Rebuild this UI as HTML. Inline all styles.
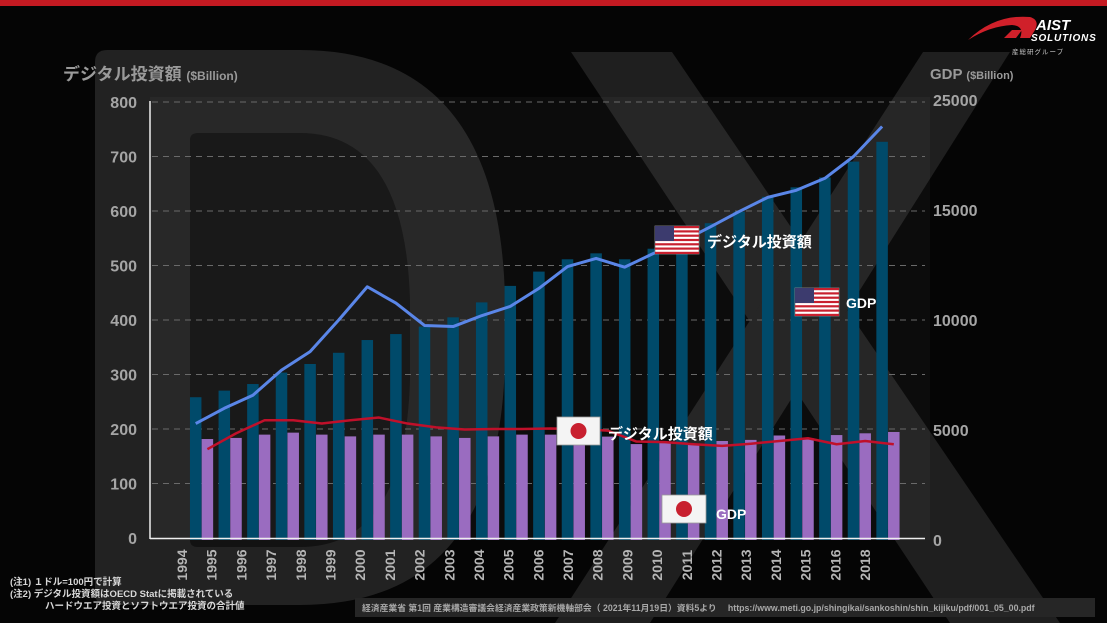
<!DOCTYPE html>
<html><head><meta charset="utf-8">
<style>
html,body{margin:0;padding:0;background:#050505;}
svg{display:block;font-family:"Liberation Sans","Noto Sans CJK JP",sans-serif;}
</style></head>
<body>
<svg id="chart" width="1107" height="623" viewBox="0 0 1107 623" xmlns="http://www.w3.org/2000/svg">
  <rect x="0" y="0" width="1107" height="623" fill="#050505"/>
  <rect x="0" y="0" width="1107" height="6" fill="#c41a22"/>
  <!-- big DX watermark -->
  <g>
    <path d="M95,62 Q95,50 107,50 L300,50 Q500,50 505,300 L505,360 Q500,605 300,605 L107,605 Q95,605 95,593 Z" fill="#222"/>
    <path d="M190,140 Q190,133 198,133 L300,133 Q405,133 410,300 L410,380 Q405,547 300,547 L198,547 Q190,547 190,540 Z" fill="#121212"/>
    <polygon points="571,52 672,52 1060,623 950,623" fill="#1f1f1f"/>
    <polygon points="923,52 1010,52 650,623 555,623" fill="#1f1f1f"/>
  </g>
  <rect x="150" y="97" width="780" height="443" fill="rgba(255,255,255,0.03)"/>
  <g id="grid"></g>
  <g id="bars"></g>
  <g id="lines"></g>
  <g id="axes"></g>

  <text x="63" y="80" font-size="17" font-weight="bold" fill="#9a9a9a">デジタル投資額 <tspan font-size="12">($Billion)</tspan></text>
  <text x="930" y="79" font-size="15" font-weight="bold" fill="#9a9a9a">GDP <tspan font-size="11">($Billion)</tspan></text>

  <!-- legend labels -->
  <g>
    <g transform="translate(655,226)">
      <rect width="44" height="28" fill="#fff" stroke="#888" stroke-width="0.8"/>
      <rect y="0" width="44" height="2.2" fill="#c8202f"/><rect y="4.3" width="44" height="2.2" fill="#c8202f"/><rect y="8.6" width="44" height="2.2" fill="#c8202f"/><rect y="12.9" width="44" height="2.2" fill="#c8202f"/><rect y="17.2" width="44" height="2.2" fill="#c8202f"/><rect y="21.5" width="44" height="2.2" fill="#c8202f"/><rect y="25.8" width="44" height="2.2" fill="#c8202f"/>
      <rect width="19" height="15" fill="#3c3b6e"/>
    </g>
    <text x="707" y="247" font-size="15" font-weight="bold" fill="#fff">デジタル投資額</text>
  </g>
  <g>
    <g transform="translate(795,288)">
      <rect width="44" height="28" fill="#fff" stroke="#888" stroke-width="0.8"/>
      <rect y="0" width="44" height="2.2" fill="#c8202f"/><rect y="4.3" width="44" height="2.2" fill="#c8202f"/><rect y="8.6" width="44" height="2.2" fill="#c8202f"/><rect y="12.9" width="44" height="2.2" fill="#c8202f"/><rect y="17.2" width="44" height="2.2" fill="#c8202f"/><rect y="21.5" width="44" height="2.2" fill="#c8202f"/><rect y="25.8" width="44" height="2.2" fill="#c8202f"/>
      <rect width="19" height="15" fill="#3c3b6e"/>
    </g>
    <text x="846" y="308" font-size="14" font-weight="bold" fill="#fff">GDP</text>
  </g>
  <g>
    <g transform="translate(557,417)">
      <rect width="43" height="28" fill="#f4f4f4" stroke="#999" stroke-width="0.8"/>
      <circle cx="21.5" cy="14" r="8" fill="#c8202f"/>
    </g>
    <text x="608" y="439" font-size="15" font-weight="bold" fill="#fff">デジタル投資額</text>
  </g>
  <g>
    <g transform="translate(662,495)">
      <rect width="44" height="28" fill="#f4f4f4" stroke="#999" stroke-width="0.8"/>
      <circle cx="22" cy="14" r="8" fill="#c8202f"/>
    </g>
    <text x="716" y="519" font-size="14" font-weight="bold" fill="#fff">GDP</text>
  </g>

  <!-- logo -->
  <g>
    <path d="M968,40 Q995,14 1030,17 Q1040,20 1035,30 L1030,38 L1020,38 Q1025,26 1012,25 Q990,26 968,40 Z" fill="#d0202a"/>
    <path d="M1004,38 L1012,30 L1022,30 L1016,38 Z" fill="#d0202a"/>
    <text x="1036" y="30" font-size="15" font-weight="bold" font-style="italic" fill="#fff">AIST</text>
    <text x="1031" y="41" font-size="10" font-weight="bold" font-style="italic" fill="#fff" letter-spacing="0.8">SOLUTIONS</text>
    <text x="1012" y="54" font-size="6.5" fill="#ccc" letter-spacing="1">産総研グループ</text>
  </g>

  <!-- footnotes -->
  <g font-size="9.5" font-weight="bold" fill="#d8d8d8">
    <text x="10" y="585">(注1) １ドル=100円で計算</text>
    <text x="10" y="597">(注2) デジタル投資額はOECD Statに掲載されている</text>
    <text x="45" y="609">ハードウエア投資とソフトウエア投資の合計値</text>
  </g>
  <rect x="355" y="598" width="740" height="19" fill="#262626"/>
  <text x="362" y="611" font-size="8.8" font-weight="bold" fill="#a8a8a8">経済産業省 第1回 産業構造審議会経済産業政策新機軸部会（ 2021年11月19日）資料5より　 https://www.meti.go.jp/shingikai/sankoshin/shin_kijiku/pdf/001_05_00.pdf</text>

<script>
const years = ['1994','1995','1996','1997','1998','1999','2000','2001','2002','2003','2004','2005','2006','2007','2008','2009','2010','2011','2012','2013','2014','2015','2016','2017','2018'];
const yearLabels = ['1994','1995','1996','1997','1998','1999','2000','2001','2002','2003','2004','2005','2006','2007','2008','2009','2010','2011','2012','2013','2014','2015','2016','2018'];
const usGdp = [6490,6790,7090,7610,8000,8510,9090,9360,9700,10120,10800,11550,12200,12760,13030,12760,13240,13600,14400,14920,15600,16030,16480,17200,18100];
const jpGdp = [4590,4640,4790,4880,4790,4710,4790,4790,4710,4640,4710,4790,4790,4700,4700,4360,4470,4360,4500,4550,4750,4620,4770,4850,4910];
const usDigital = [210,238,262,308,342,400,461,431,390,388,408,425,458,498,513,497,522,544,571,599,625,638,660,700,755];
const jpDigital = [163,192,216,216,210,216,221,210,203,199,200,200,201,200,197,177,176,172,169,173,178,183,172,178,172];
const leftTicks = [0,100,200,300,400,500,600,700,800];
const rightTicks = [0,5000,10000,15000,20000];
const rightTickLabels = ['0','5000','10000','15000','25000'];

const NS = 'http://www.w3.org/2000/svg';
function mk(tag, attrs, parent){const e=document.createElementNS(NS,tag);for(const k in attrs)e.setAttribute(k,attrs[k]);parent.appendChild(e);return e;}
const yL = v => 538 - v*0.545;
const yR = v => 540 - v*0.022;
const xUS = i => 195.7 + i*28.6;
const xJP = i => 207.4 + i*28.6;
const xLab = i => 182 + i*((865-182)/(yearLabels.length-1));
const BW = 11.5;

const grid = document.getElementById('grid');
const axes = document.getElementById('axes');
leftTicks.forEach(t=>{
  if(t>0){
    const g = mk('line',{x1:152,x2:925,y1:yL(t),y2:yL(t),stroke:'#6a6a6a','stroke-width':1,'stroke-dasharray':'6 5'},grid);
    
    
  }
  const tx = mk('text',{x:137,y:yL(t)+6,'text-anchor':'end','font-size':16,'font-weight':'bold',fill:'#a5a5a5'},axes);
  tx.textContent = t;
  
  
});
rightTicks.forEach((t,i)=>{
  const tx = mk('text',{x:933,y:yR(t)+6,'font-size':16,'font-weight':'bold',fill:'#a5a5a5'},axes);
  tx.textContent = rightTickLabels[i];
  
  
});
const ya = mk('line',{x1:150,x2:150,y1:101,y2:539,stroke:'#eee','stroke-width':1.5},axes);


const xa = mk('line',{x1:150,x2:925,y1:538.5,y2:538.5,stroke:'#eee','stroke-width':1.5},axes);


yearLabels.forEach((y,i)=>{
  const x = xLab(i);
  const tx = mk('text',{x:0,y:0,transform:`translate(${x+5},565) rotate(-90)`,'text-anchor':'middle','font-size':14,'font-weight':'bold',fill:'#b5b5b5'},axes);
  tx.textContent = y;
  
  
});

const bars = document.getElementById('bars');
years.forEach((y,i)=>{
  const b1 = mk('rect',{x:xUS(i)-BW/2,y:yR(usGdp[i]),width:BW,height:540-yR(usGdp[i]),fill:'#004a6a'},bars);
  
  
  const b2 = mk('rect',{x:xJP(i)-BW/2,y:yR(jpGdp[i]),width:BW,height:540-yR(jpGdp[i]),fill:'#9a6cc0'},bars);
  
  
});

const lines = document.getElementById('lines');
const usPts = usDigital.map((v,i)=>xUS(i)+','+yL(v)).join(' ');
const l1 = mk('polyline',{points:usPts,fill:'none',stroke:'#5a86e8','stroke-width':3,'stroke-linejoin':'round'},lines);


const jpPts = jpDigital.map((v,i)=>xJP(i)+','+yL(v)).join(' ');
const l2 = mk('polyline',{points:jpPts,fill:'none',stroke:'#c0102a','stroke-width':2.5,'stroke-linejoin':'round'},lines);


</script>
</svg>
</body></html>
